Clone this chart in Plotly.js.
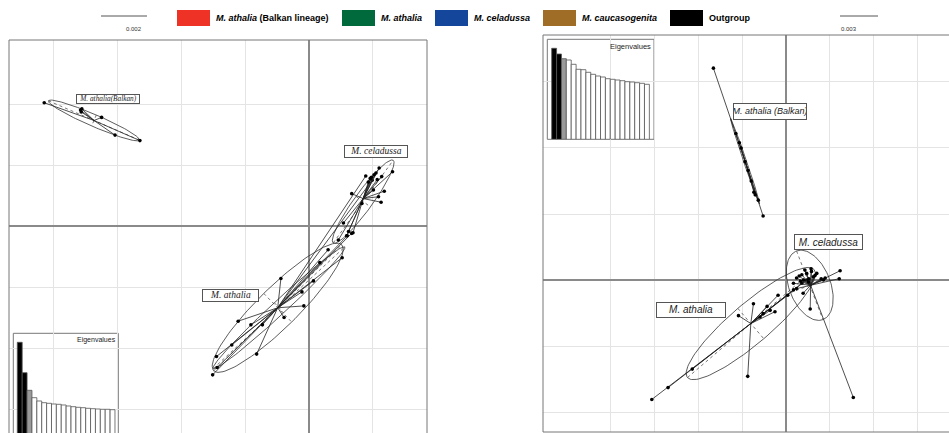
<!DOCTYPE html>
<html><head><meta charset="utf-8">
<script src="https://cdn.plot.ly/plotly-3.0.1.min.js"></script>
<style>html,body{margin:0;padding:0;background:#fff}#chart{width:949px;height:433px}</style>
</head><body><div id="chart"></div>
<script>
const W = 949, H = 433;

// ---------- Left panel (scale 0.002) ----------
const leftBalkanX = [-4.15, -3.58, -3.57, -3.56, -3.25, -3.04, -2.65];
const leftBalkanY = [2.02, 1.90, 1.87, 1.92, 1.78, 1.49, 1.40];
const leftBalkanCentroid = [-3.37, 1.73];

const leftAthaliaX = [-0.44, -1.11, -0.91, -0.73, -0.39, -0.08, -0.11, 0.07, 0.17, 0.52, -1.21, -0.82, -1.45, -1.44, -1.51, 0.30, 0.99, 0.89, 0.67, 0.60];
const leftAthaliaY = [-0.86, -1.56, -1.62, -1.62, -1.50, -1.31, -1.08, -0.90, -0.60, -0.52, -1.95, -2.10, -2.14, -2.32, -2.44, -0.39, 0.75, 0.82, -0.12, -0.16];
const leftAthaliaCentroid = [-0.49, -1.34];

const leftCeladussaX = [1.10, 1.31, 0.96, 0.93, 1.14, 1.18, 1.13, 0.67, 1.01, 1.09, 0.83, 0.54, 0.62, 0.69, 0.59, 0.46, 1.02, 1.05, 0.98, 1.07];
const leftCeladussaY = [0.95, 0.89, 0.78, 0.72, 0.81, 0.57, 0.39, 0.53, 0.59, 0.48, 0.37, 0.05, -0.09, -0.11, -0.16, -0.23, 0.84, 0.87, 0.80, 0.76];
const leftCeladussaCentroid = [0.85, 0.45];

// ellipses: centre, semi-axis a, semi-axis b
const leftEllipseCentres = [[-3.37, 1.73], [0.85, 0.40], [-0.49, -1.34], [-0.47, -1.34]];
const leftEllipseA = [[0.713, -0.322], [0.470, 0.677], [1.003, 1.033], [1.031, 0.997]];
const leftEllipseB = [[-0.037, -0.090], [0.114, -0.087], [0.219, -0.234], [0.074, -0.084]];

const leftLabels = ['M. athalia(Balkan)', 'M. celadussa', 'M. athalia'];
const leftLabelX = [-3.15, 1.045, -1.227];
const leftLabelY = [2.09, 1.216, -1.136];

const leftEigen = [102.7, 72.3, 54.7, 47.3, 44.0, 42.3, 41.7, 41.0, 40.7, 40.0, 39.0, 38.3, 37.7, 37.3, 36.7, 36.3, 36.0, 35.7, 35.7, 35.3];

// ---------- Right panel (scale 0.003) ----------
const rightBalkanX = [-1.65, -1.14, -1.02, -0.93, -0.73, -0.63, -0.52, -1.06, -0.86, -0.79, -0.70];
const rightBalkanY = [3.21, 2.22, 2.00, 1.79, 1.33, 1.21, 0.97, 2.08, 1.66, 1.50, 1.29];
const rightBalkanCentroid = [-0.93, 1.80];

const rightAthaliaX = [-3.05, -2.68, -2.13, -0.87, -0.74, -1.08, -0.59, -0.43, -0.25, -0.18, 0.04, 0.17, -0.36, -0.52, 0.36, 0.47];
const rightAthaliaY = [-1.81, -1.63, -1.35, -1.46, -0.36, -0.54, -0.56, -0.40, -0.48, -0.23, -0.23, -0.15, -0.46, -0.51, -0.05, 0.00];
const rightAthaliaCentroid = [-0.80, -0.66];

const rightCeladussaX = [1.23, 1.21, 0.89, 0.55, 1.53, 0.39, 0.24, 0.36, 0.47, 0.58, 0.62, 0.51, 0.17, 0.70, 0.43, 0.24, 0.85, 0.30, 0.52, 0.66, 0.40, 0.57, 0.80, 0.33];
const rightCeladussaY = [0.14, 0.02, 0.03, -0.44, -1.78, -0.20, 0.03, 0.08, 0.10, 0.13, 0.05, -0.03, -0.05, 0.10, 0.15, -0.13, 0.00, 0.06, 0.02, 0.07, 0.00, 0.17, 0.02, -0.02];
const rightCeladussaCentroid = [0.56, -0.08];

const rightEllipseCentres = [[-0.93, 1.80], [-0.80, -0.66], [0.54, -0.08]];
const rightEllipseA = [[0.328, -0.646], [1.439, 0.818], [0.300, -0.520]];
const rightEllipseB = [[0.032, 0.007], [0.295, -0.230], [0.440, 0.112]];

const rightLabels = ['M. athalia (Balkan)', 'M. celadussa', 'M. athalia'];
const rightLabelX = [-0.357, 0.955, -2.166];
const rightLabelY = [2.55, 0.576, -0.447];

const rightEigen = [91.0, 85.3, 80.6, 79.3, 75.0, 70.0, 69.6, 67.0, 65.0, 63.3, 62.3, 60.6, 60.0, 59.3, 58.6, 57.6, 57.3, 56.6, 56.0, 55.0];
const eigenColours = ['#000000', '#000000', '#9a9a9a'];

// ---------- Legend ----------
const legendLabels = ['<b><i>M. athalia</i> (Balkan lineage)</b>', '<b><i>M. athalia</i></b>', '<b><i>M. celadussa</i></b>', '<b><i>M. caucasogenita</i></b>', '<b>Outgroup</b>'];
const legendColours = ['#ee3326', '#006a3c', '#14479b', '#a06d26', '#000000'];
const scaleLabels = ['0.002', '0.003'];

// ---------- helpers ----------
const px = x => x / W;
const py = y => 1 - y / H;
const traces = [];
const SANS = 'Liberation Sans, Arial, sans-serif';

function star(c, xs, ys, xa, ya) {
  const lx = [], ly = [];
  xs.forEach((x, i) => { lx.push(c[0], x, null); ly.push(c[1], ys[i], null); });
  traces.push({type: 'scatter', mode: 'lines', x: lx, y: ly, xaxis: xa, yaxis: ya,
    line: {color: '#222', width: 0.8}, hoverinfo: 'skip'});
  traces.push({type: 'scatter', mode: 'markers', x: xs, y: ys, xaxis: xa, yaxis: ya,
    marker: {color: '#000', size: 3.6}, hoverinfo: 'skip'});
}
function ellipse(c, a, b, xa, ya) {
  const ex = [], ey = [];
  for (let i = 0; i <= 120; i++) {
    const t = i / 120 * 2 * Math.PI;
    ex.push(c[0] + a[0] * Math.cos(t) + b[0] * Math.sin(t));
    ey.push(c[1] + a[1] * Math.cos(t) + b[1] * Math.sin(t));
  }
  traces.push({type: 'scatter', mode: 'lines', x: ex, y: ey, xaxis: xa, yaxis: ya,
    line: {color: '#333', width: 0.8}, hoverinfo: 'skip'});
  traces.push({type: 'scatter', mode: 'lines', xaxis: xa, yaxis: ya,
    x: [c[0] - a[0], c[0] + a[0], null, c[0] - b[0], c[0] + b[0]],
    y: [c[1] - a[1], c[1] + a[1], null, c[1] - b[1], c[1] + b[1]],
    line: {color: '#555', width: 0.8, dash: 'dot'}, hoverinfo: 'skip'});
}

leftEllipseCentres.forEach((c, i) => ellipse(c, leftEllipseA[i], leftEllipseB[i], 'x', 'y'));
star(leftBalkanCentroid, leftBalkanX, leftBalkanY, 'x', 'y');
star(leftAthaliaCentroid, leftAthaliaX, leftAthaliaY, 'x', 'y');
star(leftCeladussaCentroid, leftCeladussaX, leftCeladussaY, 'x', 'y');

rightEllipseCentres.forEach((c, i) => ellipse(c, rightEllipseA[i], rightEllipseB[i], 'x2', 'y2'));
star(rightBalkanCentroid, rightBalkanX, rightBalkanY, 'x2', 'y2');
star(rightAthaliaCentroid, rightAthaliaX, rightAthaliaY, 'x2', 'y2');
star(rightCeladussaCentroid, rightCeladussaX, rightCeladussaY, 'x2', 'y2');

function eigenColour(n) { return n.map((_, i) => eigenColours[i] || '#ffffff'); }
traces.push({type: 'bar', x: leftEigen.map((_, i) => i + 1), y: leftEigen, xaxis: 'x3', yaxis: 'y3',
  marker: {color: eigenColour(leftEigen), line: {color: '#555', width: 0.8}}, hoverinfo: 'skip'});
traces.push({type: 'bar', x: rightEigen.map((_, i) => i + 1), y: rightEigen, xaxis: 'x4', yaxis: 'y4',
  marker: {color: eigenColour(rightEigen), line: {color: '#555', width: 0.8}}, hoverinfo: 'skip'});

const gridAxis = {showticklabels: false, ticks: '', showgrid: true, gridcolor: '#e4e4e4', gridwidth: 1,
  zeroline: true, zerolinecolor: '#8a8a8a', zerolinewidth: 1.4, showline: false, tickmode: 'array', fixedrange: true};
const insetAxis = {showticklabels: false, ticks: '', showgrid: false, zeroline: false, showline: false, fixedrange: true};

const layout = {
  width: W, height: H, margin: {l: 0, r: 0, t: 0, b: 0}, paper_bgcolor: '#fff', plot_bgcolor: 'rgba(0,0,0,0)',
  showlegend: false, bargap: 0,
  xaxis: Object.assign({}, gridAxis, {domain: [px(9), px(427)], range: [-4.702, 1.850], tickvals: [-4, -3, -2, -1, 0, 1]}),
  yaxis: Object.assign({}, gridAxis, {domain: [0, py(40)], range: [-3.393, 3.049], tickvals: [-3, -2, -1, 0, 1, 2]}),
  xaxis2: Object.assign({}, gridAxis, {domain: [px(543), 1], range: [-5.523, 3.705], tickvals: [-4, -3, -2, -1, 0, 1, 2, 3]}),
  yaxis2: Object.assign({}, gridAxis, {domain: [py(432), py(35)], range: [-2.303, 3.712], tickvals: [-2, -1, 0, 1, 2, 3]}),
  xaxis3: Object.assign({}, insetAxis, {domain: [px(13.3), px(118.3)], range: [-0.32, 21.18], anchor: 'y3'}),
  yaxis3: Object.assign({}, insetAxis, {domain: [0, py(333.3)], range: [12, 111.7], anchor: 'x3'}),
  xaxis4: Object.assign({}, insetAxis, {domain: [px(547.3), px(654)], range: [-0.4, 21.45], anchor: 'y4'}),
  yaxis4: Object.assign({}, insetAxis, {domain: [py(139.3), py(39.3)], range: [0, 100], anchor: 'x4'}),
  shapes: [], annotations: []
};

function pline(x0, y0, x1, y1, col, w) {
  layout.shapes.push({type: 'line', xref: 'paper', yref: 'paper', x0: px(x0), y0: py(y0), x1: px(x1), y1: py(y1),
    line: {color: col, width: w}});
}
// panel frames
pline(9, 40, 427, 40, '#777', 1); pline(9, 40, 9, 433, '#777', 1); pline(427, 40, 427, 433, '#777', 1);
pline(543, 35, 949, 35, '#777', 1); pline(543, 35, 543, 432, '#777', 1); pline(543, 432, 949, 432, '#777', 1);
// inset frames
layout.shapes.push({type: 'rect', xref: 'paper', yref: 'paper', x0: px(13.3), x1: px(118.3), y0: py(440), y1: py(333.3),
  line: {color: '#777', width: 1}, fillcolor: '#fff', layer: 'below'});
layout.shapes.push({type: 'rect', xref: 'paper', yref: 'paper', x0: px(547.3), x1: px(654), y0: py(139.3), y1: py(39.3),
  line: {color: '#777', width: 1}, fillcolor: '#fff', layer: 'below'});
// scale bars
pline(101, 16, 147, 16, '#555', 1); pline(840, 16, 878, 16, '#555', 1);
layout.annotations.push({xref: 'paper', yref: 'paper', x: px(124), y: py(24), text: scaleLabels[0], showarrow: false,
  font: {family: SANS, size: 6, color: '#333'}});
layout.annotations.push({xref: 'paper', yref: 'paper', x: px(859), y: py(24), text: scaleLabels[1], showarrow: false,
  font: {family: SANS, size: 6, color: '#333'}});

// legend
const legendBoxX = [177, 342, 435, 543, 670];
legendLabels.forEach((t, i) => {
  layout.shapes.push({type: 'rect', xref: 'paper', yref: 'paper', x0: px(legendBoxX[i]), x1: px(legendBoxX[i] + 33),
    y0: py(26), y1: py(10), line: {width: 0}, fillcolor: legendColours[i]});
  layout.annotations.push({xref: 'paper', yref: 'paper', x: px(legendBoxX[i] + 37), y: py(18), xanchor: 'left', yanchor: 'middle',
    text: t, showarrow: false, font: {family: SANS, size: 9, color: '#000'}});
});

// eigen labels
layout.annotations.push({xref: 'paper', yref: 'paper', x: px(118), y: py(340), xanchor: 'right', yanchor: 'middle',
  text: 'Eigenvalues', showarrow: false, font: {family: SANS, size: 7, color: '#222'}});
layout.annotations.push({xref: 'paper', yref: 'paper', x: px(653), y: py(46), xanchor: 'right', yanchor: 'middle',
  text: 'Eigenvalues', showarrow: false, font: {family: SANS, size: 7.5, color: '#222'}});

// group labels
const leftBox = [[62, 7.5, 7.3], [62, 10.5, 9.5], [55, 10.5, 9.5]];
leftLabels.forEach((t, i) => layout.annotations.push({xref: 'x', yref: 'y', x: leftLabelX[i], y: leftLabelY[i],
  text: '<i>' + t + '</i>', showarrow: false, width: leftBox[i][0], height: leftBox[i][1], borderpad: 0,
  bordercolor: '#555', borderwidth: 1, bgcolor: '#fff',
  font: {family: 'Liberation Serif, Times New Roman, serif', size: leftBox[i][2], color: '#222'}}));
const rightBox = [[72, 14.5, 9], [67, 14, 10], [68, 13.5, 10]];
rightLabels.forEach((t, i) => layout.annotations.push({xref: 'x2', yref: 'y2', x: rightLabelX[i], y: rightLabelY[i],
  text: '<i>' + t + '</i>', showarrow: false, width: rightBox[i][0], height: rightBox[i][1], borderpad: 0,
  bordercolor: '#555', borderwidth: 1, bgcolor: '#fff',
  font: {family: SANS, size: rightBox[i][2], color: '#222'}}));

Plotly.newPlot('chart', traces, layout, {staticPlot: true, displayModeBar: false});
</script></body></html>
